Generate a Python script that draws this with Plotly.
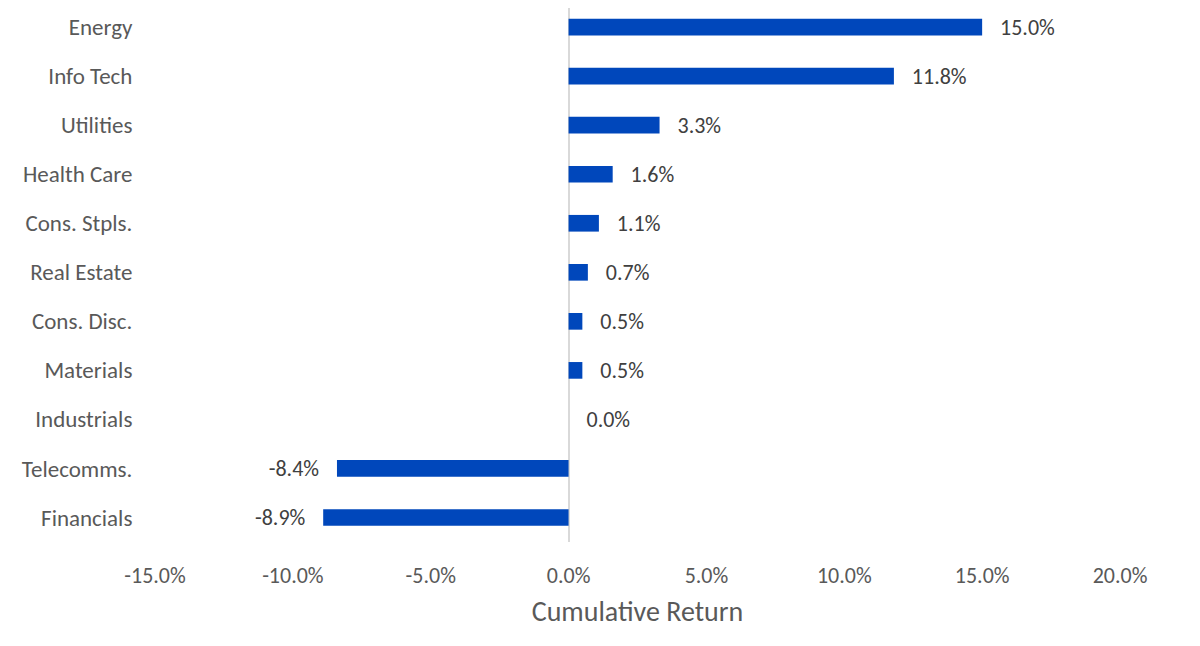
import plotly.graph_objects as go

# sector returns, top to bottom as shown
sectors = ["Energy", "Info Tech", "Utilities", "Health Care", "Cons. Stpls.",
           "Real Estate", "Cons. Disc.", "Materials", "Industrials",
           "Telecomms.", "Financials"]
returns = [15.0, 11.8, 3.3, 1.6, 1.1, 0.7, 0.5, 0.5, 0.0, -8.4, -8.9]

tick_vals = [-15, -10, -5, 0, 5, 10, 15, 20]
tick_text = ["-15.0%", "-10.0%", "-5.0%", "0.0%", "5.0%", "10.0%", "15.0%", "20.0%"]

pad = "\u00a0" * 3
labels = [(f"{pad}{v:.1f}%" if v >= 0 else f"{v:.1f}%{pad}") for v in returns]

fig = go.Figure()
fig.add_trace(go.Bar(
    x=returns, y=sectors, orientation="h",
    marker=dict(color="#0047BB", line=dict(width=0)),
    text=labels, textposition="outside", cliponaxis=False,
    constraintext="none",
    textfont=dict(color="#404040", size=22),
    width=0.34,
))

fig.update_layout(
    width=1184, height=630,
    margin=dict(l=147, r=72, t=0, b=96),
    plot_bgcolor="white", paper_bgcolor="white",
    font=dict(family="Carlito, Lato, sans-serif", size=23, color="#595959"),
    showlegend=False,
    xaxis=dict(
        range=[-15, 20], tickvals=tick_vals, ticktext=tick_text,
        tickfont=dict(size=22),
        showgrid=False, zeroline=True, zerolinecolor="#d9d9d9", zerolinewidth=2,
        showline=False, ticks="outside", ticklen=0, ticklabelstandoff=14,
        automargin=False,
        title=dict(text="Cumulative Return", standoff=12, font=dict(size=28)),
    ),
    yaxis=dict(
        categoryorder="array", categoryarray=sectors[::-1],
        range=[-0.5, 10.39], automargin=False,
        showgrid=False, showline=False, zeroline=False,
        ticks="outside", ticklen=0, ticklabelstandoff=17,
    ),
)

fig.write_html("out.html")
